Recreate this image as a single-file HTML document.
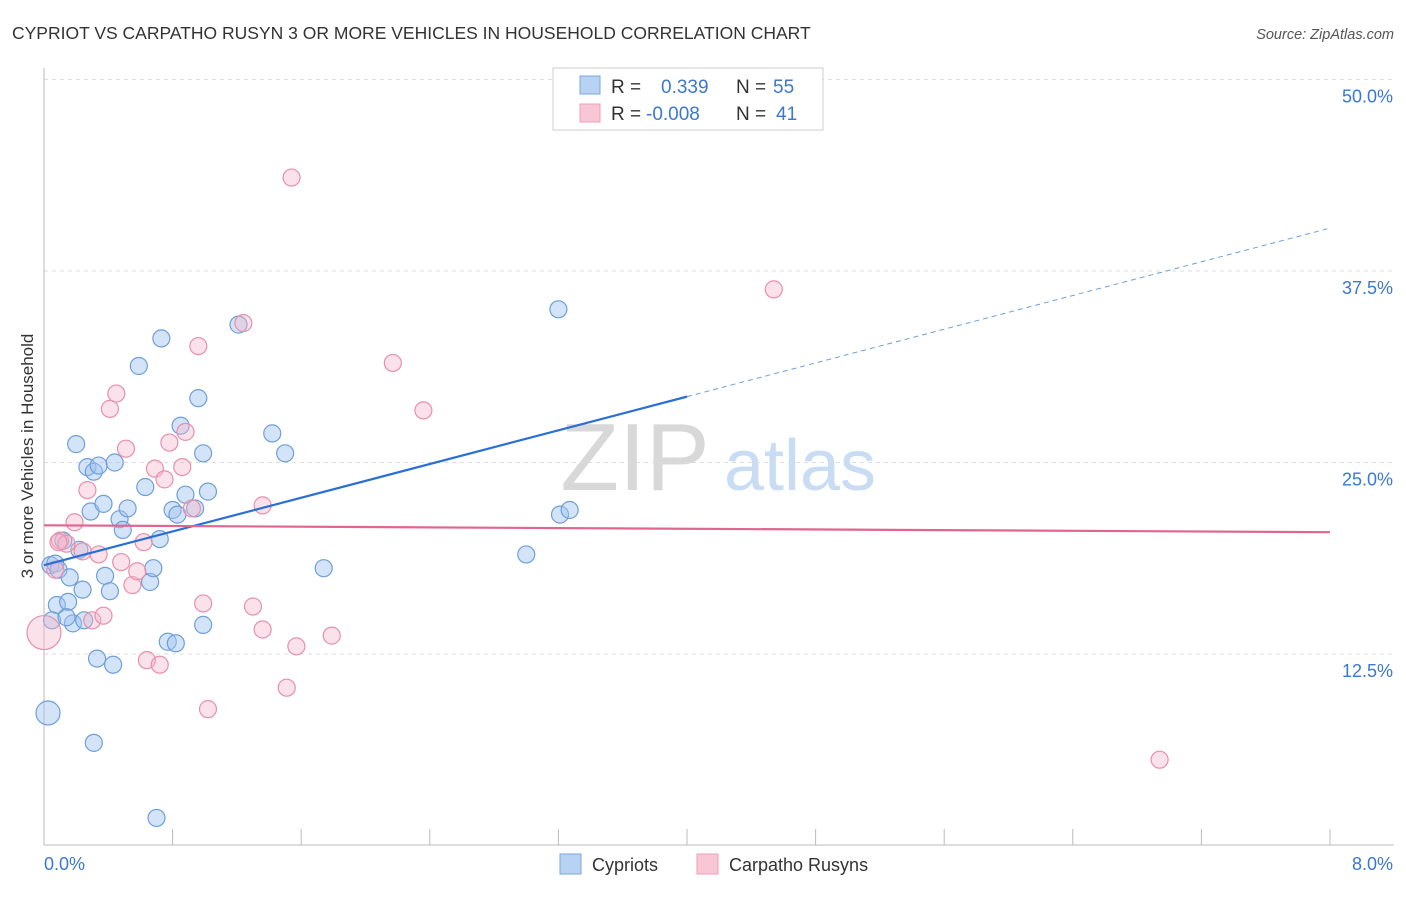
<!DOCTYPE html>
<html><head><meta charset="utf-8"><style>
body{margin:0;background:#fff;font-family:"Liberation Sans",sans-serif}
svg text{font-family:"Liberation Sans",sans-serif}
</style></head><body>
<svg id="chart" width="1406" height="892" viewBox="0 0 1406 892">
<text x="12" y="39" font-size="17.5" fill="#333">CYPRIOT VS CARPATHO RUSYN 3 OR MORE VEHICLES IN HOUSEHOLD CORRELATION CHART</text>
<text x="1394" y="39" font-size="14.5" fill="#555" text-anchor="end" font-style="italic">Source: ZipAtlas.com</text>
<text transform="translate(33,456) rotate(-90)" font-size="17" fill="#333" text-anchor="middle">3 or more Vehicles in Household</text>
<g>
<text x="635" y="490" font-size="96" fill="#d8d8d8" font-family="Liberation Serif" text-anchor="middle">ZIP</text>
<text x="800" y="490" font-size="72" fill="#c8dcf4" text-anchor="middle">atlas</text>
</g>
<g id="grid"></g><g id="axes"></g><g id="pts"></g><g id="lines"></g>
<g>
<rect x="553" y="68" width="270" height="62" fill="#fff" stroke="#ccc"/>
<rect x="580" y="76" width="20" height="18" fill="#b8d2f3" stroke="#7aa6dc"/>
<rect x="580" y="104" width="20" height="18" fill="#f8c6d5" stroke="#eba0b8"/>
<text x="611" y="93" font-size="19" fill="#333">R =</text>
<text x="661" y="93" font-size="19" fill="#3b78d0">0.339</text>
<text x="736" y="93" font-size="19" fill="#333">N =</text>
<text x="773" y="93" font-size="19" fill="#3b78d0">55</text>
<text x="611" y="120" font-size="19" fill="#333">R =</text>
<text x="646" y="120" font-size="19" fill="#3b78d0">-0.008</text>
<text x="736" y="120" font-size="19" fill="#333">N =</text>
<text x="776" y="120" font-size="19" fill="#3b78d0">41</text>
</g>
<g>
<rect x="560" y="854" width="21" height="20" fill="#b8d2f3" stroke="#7aa6dc"/>
<text x="592" y="871" font-size="18" fill="#333">Cypriots</text>
<rect x="697" y="854" width="21" height="20" fill="#f8c6d5" stroke="#eba0b8"/>
<text x="729" y="871" font-size="18" fill="#333">Carpatho Rusyns</text>
</g>
</svg>
<script>
const yTicks=[12.5,25.0,37.5,50.0];
const xTickLabels=["0.0%","8.0%"];
const blueX=[0.025,0.04,0.07,0.09,0.08,0.05,0.12,0.15,0.16,0.18,0.14,0.2,0.22,0.24,0.25,0.27,0.29,0.31,0.34,0.33,0.31,0.37,0.38,0.41,0.43,0.44,0.47,0.49,0.52,0.59,0.63,0.66,0.68,0.70,0.72,0.73,0.77,0.82,0.80,0.83,0.85,0.88,0.94,0.96,0.99,0.99,1.02,1.21,1.42,1.50,1.74,3.0,3.2,3.21,3.27];
const blueY=[8.65,18.3,18.4,18.0,15.7,14.7,19.9,15.9,17.5,14.5,14.9,26.2,19.3,16.7,14.7,24.7,21.8,24.4,24.8,12.2,6.7,22.3,17.6,16.6,11.8,25.0,21.3,20.6,22.0,31.3,23.4,17.2,18.1,1.8,20.0,33.1,13.3,13.2,21.9,21.6,27.4,22.9,22.0,29.2,25.6,14.4,23.1,34.0,26.9,25.6,18.1,19.0,35.0,21.6,21.9];
const pinkX=[0.0,0.07,0.1,0.14,0.19,0.24,0.27,0.3,0.34,0.37,0.41,0.45,0.48,0.51,0.55,0.58,0.62,0.64,0.69,0.72,0.75,0.78,0.86,0.88,0.92,0.96,0.99,1.02,1.24,1.30,1.36,1.36,1.51,1.54,1.57,1.79,2.17,2.36,4.54,6.94,0.09];
const pinkY=[13.9,18.0,19.9,19.7,21.1,19.2,23.2,14.7,19.0,15.0,28.5,29.5,18.5,25.9,17.0,17.9,19.8,12.1,24.6,11.8,23.9,26.3,24.7,27.0,22.0,32.6,15.8,8.9,34.1,15.6,14.1,22.2,10.3,43.6,13.0,13.7,31.5,28.4,36.3,5.6,19.8];
const blueLine=[[0,18.3],[4.0,29.3],[8.0,40.3]];
const pinkLine=[[0,20.9],[8.0,20.45]];
const X=v=>44+v/8*1286, Y=v=>845.5-v/50*766;
const NS="http://www.w3.org/2000/svg";
function mk(p,t,a){const e=document.createElementNS(NS,t);for(const k in a)e.setAttribute(k,a[k]);p.appendChild(e);return e;}
const grid=document.getElementById('grid'),axes=document.getElementById('axes'),pts=document.getElementById('pts'),lines=document.getElementById('lines');
yTicks.forEach(t=>{const g=mk(grid,'line',{x1:44,x2:1394,y1:Y(t),y2:Y(t),stroke:'#ddd','stroke-dasharray':'4,4'});


const tx=mk(grid,'text',{x:1393,y:Y(t)+23,'font-size':18,fill:'#3b78d0','text-anchor':'end'});tx.textContent=t.toFixed(1)+'%';

});
const ax=mk(axes,'line',{x1:44,x2:44,y1:68,y2:845,stroke:'#bbb'});


const bx=mk(axes,'line',{x1:44,x2:1394,y1:845,y2:845,stroke:'#bbb'});


for(let i=1;i<=10;i++){const tk=mk(axes,'line',{x1:X(i*0.8),x2:X(i*0.8),y1:829,y2:845,stroke:'#bbb'});

}
xTickLabels.forEach((l,i)=>{const t=mk(axes,'text',{x:i?1393:44,y:870,'font-size':18,fill:'#3b78d0','text-anchor':i?'end':'start'});t.textContent=l;

});
blueX.forEach((v,i)=>{const c=mk(pts,'circle',{cx:X(v),cy:Y(blueY[i]),r:i==0?12:8.5,fill:'rgba(160,195,240,0.45)',stroke:'#6f9fd8','stroke-width':1.2});

});
pinkX.forEach((v,i)=>{const c=mk(pts,'circle',{cx:X(v),cy:Y(pinkY[i]),r:i==0?17:8.5,fill:'rgba(245,180,200,0.4)',stroke:'#e890ac','stroke-width':1.2});

});
let l1=mk(lines,'line',{x1:X(blueLine[0][0]),y1:Y(blueLine[0][1]),x2:X(blueLine[1][0]),y2:Y(blueLine[1][1]),stroke:'#2a6fd6','stroke-width':2.2});


let l2=mk(lines,'line',{x1:X(blueLine[1][0]),y1:Y(blueLine[1][1]),x2:X(blueLine[2][0]),y2:Y(blueLine[2][1]),stroke:'#6f9fd8','stroke-width':1,'stroke-dasharray':'5,4'});


let l3=mk(lines,'line',{x1:X(pinkLine[0][0]),y1:Y(pinkLine[0][1]),x2:X(pinkLine[1][0]),y2:Y(pinkLine[1][1]),stroke:'#e06690','stroke-width':2.2});


</script>
</body></html>
